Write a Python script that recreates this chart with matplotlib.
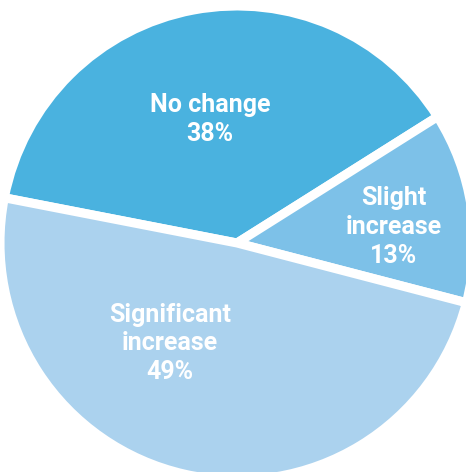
import matplotlib.pyplot as plt

categories = ["No change", "Slight increase", "Significant increase"]
shares = [38, 13, 49]
label_lines = ["No change", "Slight\nincrease", "Significant\nincrease"]
colors = ["#4AB2DF", "#7DC1E8", "#ABD2EE"]

# label centres in axes data units (pie radius = 1)
label_pos = [(-0.114, 0.52), (0.661, 0.068), (-0.284, -0.424)]

W, H = 466, 472
fig = plt.figure(figsize=(W / 100, H / 100), dpi=100)
cx, cy, r = 237, 243, 237
ax = fig.add_axes([(cx - r) / W, (H - cy - r) / H, 2 * r / W, 2 * r / H])

ax.pie(shares, colors=colors, startangle=169, counterclock=False,
       radius=1, wedgeprops=dict(edgecolor="white", linewidth=6.5))
ax.set_xlim(-1, 1)
ax.set_ylim(-1, 1)
ax.set_axis_off()

for txt, val, (x, y) in zip(label_lines, shares, label_pos):
    ax.text(x, y, f"{txt}\n{val}%", ha="center", va="center",
            color="white", fontsize=18, fontweight="bold",
            family="Roboto", linespacing=1.25)

fig.savefig("out.png", dpi=100)
